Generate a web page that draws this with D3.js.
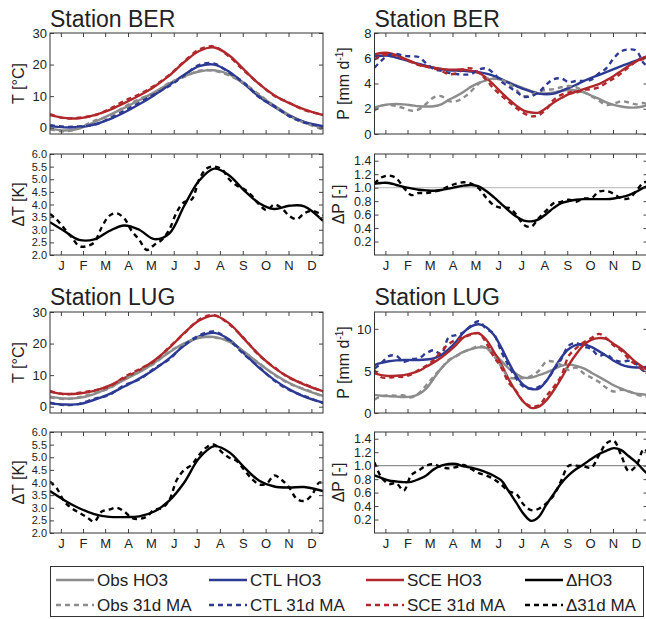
<!DOCTYPE html>
<html>
<head>
<meta charset="utf-8">
<script src="https://cdn.jsdelivr.net/npm/d3@7"></script>
<style>
body{margin:0;background:#fff;}
svg text{font-family:"Liberation Sans",Arial,Helvetica,sans-serif;fill:#222;}
</style>
</head>
<body>
<svg id="fig" width="646" height="619"></svg>
<script>
// x grids (day of year)
var dayH = [1,20,40,60,80,100,120,140,160,180,200,220,240,260,280,300,320,340,365];
var dayM = [1,10,20,30,40,50,60,70,80,90,100,110,120,130,140,150,160,170,180,190,200,210,220,230,240,250,260,270,280,290,300,310,320,330,340,350,360,365];
var monthDays = [15.5,45,74.5,105,135.5,166,196.5,227.5,258,288.5,319,349.5];
var monthNames = ["J","F","M","A","M","J","J","A","S","O","N","D"];

// tick values
var tTicks = [0,10,20,30];
var dtTicks = [2,2.5,3,3.5,4,4.5,5,5.5,6];
var pBerTicks = [0,2,4,6,8];
var pLugTicks = [0,5,10];
var dpTicks = [0.2,0.4,0.6,0.8,1.0,1.2,1.4];

// ---- Station BER ----
var berTObs   = [-0.2,-0.9,-0.3,1.8,4.0,6.3,8.7,11.2,14.0,16.3,17.8,18.2,16.9,13.8,10.2,7.0,4.0,1.8,-0.2];
var berTObsMA = [-0.5,-1.2,-0.1,2.2,3.7,6.6,9.1,11.0,14.2,16.1,18.1,18.0,16.5,14.0,10.5,6.8,3.7,1.6,-0.6];
var berTCtl   = [0.5,0.1,0.2,1.0,2.6,4.8,7.4,10.3,13.5,16.8,19.5,20.0,17.7,13.9,9.8,6.6,3.8,1.8,0.5];
var berTCtlMA = [0.8,0.3,0.4,0.9,2.9,5.4,7.9,10.6,13.2,16.6,19.9,20.3,17.4,14.2,9.6,6.9,3.6,1.6,0.4];
var berTSce   = [4.0,3.1,3.0,4.0,5.6,7.8,10.2,13.0,16.5,20.8,24.3,25.4,22.9,18.3,13.8,10.3,7.8,5.8,4.0];
var berTSceMA = [4.3,3.0,3.2,3.9,5.9,8.5,10.6,13.3,16.7,21.0,24.8,25.7,22.5,18.0,13.9,10.1,7.9,5.6,4.1];

var berDT   = [3.30,2.95,2.6,2.62,2.95,3.17,3.0,2.63,2.85,3.95,4.95,5.42,5.15,4.55,4.05,3.82,3.95,3.93,3.35];
var berDTMA = [3.63,3.4,3.05,2.7,2.35,2.35,2.5,3.1,3.55,3.65,3.45,2.95,2.6,2.2,2.4,2.6,3.0,3.7,4.1,4.2,5.0,5.43,5.5,5.4,5.0,4.75,4.6,4.35,4.0,3.77,4.0,3.85,3.55,3.42,3.65,3.75,3.65,3.57];

var berPObs   = [2.1,2.25,2.35,2.38,2.35,2.28,2.2,2.18,2.2,2.35,2.7,3.0,3.35,3.75,4.05,4.25,4.4,4.3,4.1,3.85,3.62,3.4,3.22,3.22,3.3,3.4,3.5,3.45,3.3,3.05,2.8,2.5,2.3,2.18,2.1,2.1,2.2,2.3];
var berPObsMA = [1.85,2.25,2.3,2.2,2.05,1.85,1.95,2.4,2.9,3.0,2.6,2.6,2.9,3.4,4.0,4.4,4.4,4.3,4.0,3.5,3.0,3.1,3.35,3.5,3.55,3.7,3.8,3.7,3.35,3.0,2.65,2.3,2.4,2.6,2.5,2.35,2.45,2.35];
var berPCtl   = [6.15,6.2,6.2,6.05,5.9,5.72,5.55,5.4,5.25,5.15,5.05,5.02,5.0,4.95,4.9,4.78,4.6,4.35,4.05,3.8,3.55,3.35,3.2,3.15,3.2,3.42,3.65,3.9,4.2,4.45,4.67,4.9,5.14,5.37,5.6,5.82,6.05,6.1];
var berPCtlMA = [5.25,5.8,6.25,6.35,6.2,6.15,6.1,5.6,5.15,5.0,4.85,4.75,4.7,4.75,5.1,5.2,4.8,4.15,3.75,3.35,2.95,3.0,3.3,3.9,4.35,4.4,4.1,4.2,4.2,4.3,4.8,5.2,6.0,6.55,6.7,6.6,5.6,5.4];
var berPSce   = [6.3,6.42,6.42,6.25,6.0,5.75,5.5,5.35,5.25,5.15,5.1,5.1,5.1,5.0,4.85,4.45,3.9,3.3,2.75,2.25,1.85,1.7,1.7,2.05,2.5,2.85,3.15,3.35,3.55,3.75,3.95,4.25,4.6,5.0,5.4,5.75,6.05,6.2];
var berPSceMA = [5.9,6.2,6.3,6.2,5.95,5.7,5.45,5.35,5.2,5.0,4.75,4.8,5.15,5.2,4.85,4.3,3.6,3.05,2.55,2.05,1.65,1.4,1.5,1.95,2.7,3.1,3.3,3.3,3.5,3.55,3.7,4.05,4.4,4.8,5.3,5.75,5.95,6.15];

var berDP   = [1.06,1.07,1.07,1.04,1.01,0.99,0.97,0.96,0.955,0.965,0.985,1.01,1.03,1.04,1.02,0.95,0.86,0.76,0.66,0.57,0.51,0.5,0.53,0.61,0.7,0.77,0.8,0.82,0.83,0.83,0.83,0.83,0.84,0.86,0.89,0.94,1.0,1.02];
var berDPMA = [1.06,1.15,1.18,1.14,1.0,0.89,0.92,0.92,0.94,0.97,1.02,1.06,1.08,1.06,0.99,0.85,0.74,0.7,0.7,0.6,0.45,0.42,0.55,0.66,0.77,0.79,0.82,0.79,0.84,0.84,0.94,0.95,0.91,0.84,0.84,0.95,1.08,1.08];

// ---- Station LUG ----
var lugTObs   = [3.2,2.6,2.8,4.0,6.0,8.5,10.9,13.9,17.2,20.1,21.8,22.1,20.6,17.4,13.6,10.3,7.5,5.4,3.4];
var lugTObsMA = [3.0,2.4,3.0,4.3,5.8,8.8,11.2,13.7,17.5,20.0,22.0,21.9,20.9,17.2,13.8,10.1,7.3,5.6,3.2];
var lugTCtl   = [1.05,0.7,0.8,2.2,4.0,6.4,8.9,11.8,15.3,19.4,22.3,23.4,21.3,16.8,12.3,8.5,5.5,3.2,1.3];
var lugTCtlMA = [1.3,0.5,0.9,2.5,3.7,6.8,8.6,12.1,15.0,19.6,22.6,23.8,21.0,16.5,12.5,8.3,5.3,3.4,1.1];
var lugTSce   = [4.7,4.05,4.2,5.0,6.65,9.05,11.55,14.65,18.6,23.4,27.3,28.85,26.4,21.4,16.4,12.3,9.3,7.0,4.9];
var lugTSceMA = [5.0,3.9,4.4,5.2,6.4,9.4,11.9,14.4,18.9,23.2,27.6,29.0,26.1,21.6,16.2,12.5,9.1,7.2,4.7];

var lugDT   = [3.66,3.3,2.98,2.75,2.64,2.63,2.66,2.85,3.28,4.0,4.97,5.44,5.2,4.6,4.07,3.84,3.8,3.82,3.66];
var lugDTMA = [4.03,3.77,3.25,2.98,2.8,2.63,2.45,2.85,2.93,3.0,2.85,2.6,2.56,2.65,2.92,2.98,3.3,4.1,4.5,4.7,5.1,5.4,5.5,5.2,4.98,4.85,4.5,4.15,3.92,3.96,4.28,4.1,3.8,3.35,3.27,3.5,4.0,3.96];

var lugPObs   = [2.15,2.05,2.0,1.95,1.9,1.95,2.25,2.9,4.1,5.3,6.2,6.8,7.3,7.6,7.8,7.75,7.1,6.2,5.3,4.65,4.2,4.2,4.5,4.8,5.2,5.6,5.75,5.6,5.3,4.8,4.3,3.8,3.3,2.9,2.55,2.3,2.2,2.15];
var lugPObsMA = [1.6,2.0,2.1,2.05,2.1,1.85,2.35,3.3,4.35,5.3,6.3,6.75,7.25,7.6,7.95,7.7,6.8,5.5,4.25,4.1,4.15,4.4,5.0,6.1,6.1,5.7,5.1,5.4,4.7,4.2,3.7,3.0,2.55,2.75,2.6,2.2,2.0,1.95];
var lugPCtl   = [5.7,5.95,6.15,6.25,6.3,6.3,6.3,6.35,6.5,6.9,7.6,8.5,9.6,10.3,10.55,10.2,9.3,7.8,6.0,4.4,3.3,2.85,2.9,3.8,5.2,6.6,7.6,8.1,8.15,7.85,7.35,6.8,6.2,5.75,5.5,5.4,5.45,5.5];
var lugPCtlMA = [5.3,5.9,6.75,6.8,6.1,6.4,6.5,7.1,7.45,7.0,9.0,9.25,9.6,10.4,10.9,10.0,9.4,7.3,5.6,4.1,3.1,2.9,3.1,3.8,5.1,6.4,8.0,8.3,7.9,7.6,6.8,7.0,6.3,6.1,6.2,5.8,5.0,4.9];
var lugPSce   = [4.7,4.5,4.4,4.42,4.5,4.7,5.0,5.5,6.0,6.6,7.3,8.1,9.0,9.4,9.45,8.7,7.3,5.8,4.0,2.5,1.3,0.6,0.75,1.5,2.7,4.1,5.7,7.0,8.1,8.7,8.9,8.8,8.2,7.6,6.8,6.0,5.4,5.1];
var lugPSceMA = [5.1,4.25,4.2,4.3,4.3,4.6,5.1,5.6,6.3,7.3,8.2,8.7,9.0,9.3,9.5,8.3,6.7,5.4,3.6,2.6,1.3,0.8,0.9,2.0,3.1,4.4,6.8,7.7,8.4,8.9,9.4,8.9,8.0,7.4,6.4,5.7,5.0,4.7];

var lugDP   = [0.855,0.82,0.78,0.765,0.755,0.76,0.8,0.855,0.945,1.0,1.025,1.025,0.99,0.97,0.94,0.9,0.85,0.78,0.62,0.45,0.28,0.18,0.24,0.42,0.58,0.74,0.86,0.95,1.02,1.1,1.17,1.22,1.26,1.23,1.14,1.05,0.93,0.88];
var lugDPMA = [1.05,0.83,0.73,0.74,0.63,0.86,0.93,1.0,1.02,0.98,0.96,0.98,1.01,0.95,0.89,0.855,0.8,0.72,0.62,0.58,0.42,0.34,0.36,0.44,0.56,0.78,1.0,1.0,0.99,0.97,1.15,1.33,1.37,1.15,0.92,1.0,1.25,1.2];

// legend
var legendTop = ["Obs HO3","CTL HO3","SCE HO3","\u0394HO3"];
var legendBot = ["Obs 31d MA","CTL 31d MA","SCE 31d MA","\u039431d MA"];

var col = {obs:"#8c8c8c", ctl:"#2d3a93", sce:"#b0282c", d:"#000"};
var LX = 50, RX = 374.5, W = 273, H = 101;
var svg = d3.select("#fig");
var clipN = 0;

function set(sol, ma, c, days) {
  return [{d:days, v:sol, c:c, dash:false}, {d:days, v:ma, c:c, dash:true}];
}

function panel(p) {
  var x = d3.scaleLinear().domain([1,365]).range([p.left, p.left + W]);
  var y = d3.scaleLinear().domain(p.dom).range([p.top + H, p.top]);
  var id = "clip" + (clipN++);
  svg.append("clipPath").attr("id", id).append("rect")
    .attr("x", p.left).attr("y", p.top).attr("width", W).attr("height", H);
  var g = svg.append("g");
  var pg = g.append("g").attr("clip-path", "url(#" + id + ")");

  if (p.ref != null) {
    pg.append("line").attr("x1", p.left).attr("x2", p.left + W)
      .attr("y1", y(p.ref)).attr("y2", y(p.ref))
      .attr("stroke", p.refColor).attr("stroke-width", 1.2);
  }
  var line = d3.line().curve(d3.curveCatmullRom.alpha(0.5));
  var solid = p.lines.filter(function(s){ return !s.dash; });
  var dashed = p.lines.filter(function(s){ return s.dash; });
  solid.concat(dashed).forEach(function(s) {
    var pts = s.d.map(function(d, i){ return [x(d), y(s.v[i])]; });
    pg.append("path").attr("d", line(pts)).attr("fill", "none")
      .attr("stroke", s.c).attr("stroke-width", 2.4)
      .attr("stroke-dasharray", s.dash ? "5,4" : null)
      .attr("stroke-linecap", "butt");
  });

  // axes with inward ticks
  var ax = [];
  ax.push(g.append("g").attr("transform", "translate(" + p.left + ",0)")
    .call(d3.axisLeft(y).tickValues(p.ticks).tickFormat(p.fmt).tickSize(-4).tickPadding(3)));
  ax.push(g.append("g").attr("transform", "translate(" + (p.left + W) + ",0)")
    .call(d3.axisRight(y).tickValues(p.ticks).tickFormat("").tickSize(-4)));
  ax.push(g.append("g").attr("transform", "translate(0," + p.top + ")")
    .call(d3.axisTop(x).tickValues(monthDays).tickFormat("").tickSize(-4)));
  ax.push(g.append("g").attr("transform", "translate(0," + (p.top + H) + ")")
    .call(d3.axisBottom(x).tickValues(monthDays)
      .tickFormat(p.months ? function(d, i){ return monthNames[i]; } : "")
      .tickSize(-4).tickPadding(6)));
  ax.forEach(function(a) {
    a.select(".domain").remove();
    a.selectAll(".tick line").attr("stroke", "#444");
    a.selectAll("text").attr("font-size", 13).attr("font-family", null).attr("fill", "#222");
  });
  if (p.tickFont) ax[0].selectAll("text").attr("font-size", p.tickFont);

  g.append("rect").attr("x", p.left).attr("y", p.top).attr("width", W).attr("height", H)
    .attr("fill", "none").attr("stroke", "#333").attr("stroke-width", 1);

  // y label
  var lx = p.labelX || (p.left === LX ? 18.5 : 343);
  var t = g.append("text").attr("transform", "translate(" + lx + "," + (p.top + H / 2) + ") rotate(-90)")
    .attr("text-anchor", "middle").attr("dy", "0.35em").attr("font-size", 16);
  if (p.label === "P") {
    t.append("tspan").text("P [mm d");
    t.append("tspan").attr("font-size", 10).attr("dy", -6).text("-1");
    t.append("tspan").attr("dy", 6).text("]");
  } else {
    t.text(p.label);
  }
}

var f0 = d3.format("d"), f1 = d3.format(".1f");

panel({left:LX, top:33, dom:[-2,30], ticks:tTicks, fmt:f0, label:"T [\u00B0C]",
  lines:[].concat(set(berTObs,berTObsMA,col.obs,dayH), set(berTCtl,berTCtlMA,col.ctl,dayH), set(berTSce,berTSceMA,col.sce,dayH))});
panel({left:RX, top:33, dom:[0,8], ticks:pBerTicks, fmt:f0, label:"P",
  lines:[].concat(set(berPObs,berPObsMA,col.obs,dayM), set(berPCtl,berPCtlMA,col.ctl,dayM), set(berPSce,berPSceMA,col.sce,dayM))});
panel({left:LX, top:154, dom:[2,6], ticks:dtTicks, fmt:f1, label:"\u0394T [K]", months:true, tickFont:11,
  lines:[{d:dayH, v:berDT, c:col.d}, {d:dayM, v:berDTMA, c:col.d, dash:true}]});
panel({left:RX, top:154, dom:[0,1.5], ticks:dpTicks, fmt:f1, label:"\u0394P [-]", months:true, ref:1, refColor:"#c4c4c4",
  tickFont:12.5, labelX:338.5,
  lines:[{d:dayM, v:berDP, c:col.d}, {d:dayM, v:berDPMA, c:col.d, dash:true}]});

panel({left:LX, top:312, dom:[-2,30], ticks:tTicks, fmt:f0, label:"T [\u00B0C]",
  lines:[].concat(set(lugTObs,lugTObsMA,col.obs,dayH), set(lugTCtl,lugTCtlMA,col.ctl,dayH), set(lugTSce,lugTSceMA,col.sce,dayH))});
panel({left:RX, top:312, dom:[0,12], ticks:pLugTicks, fmt:f0, label:"P",
  lines:[].concat(set(lugPObs,lugPObsMA,col.obs,dayM), set(lugPCtl,lugPCtlMA,col.ctl,dayM), set(lugPSce,lugPSceMA,col.sce,dayM))});
panel({left:LX, top:432, dom:[2,6], ticks:dtTicks, fmt:f1, label:"\u0394T [K]", months:true, tickFont:11,
  lines:[{d:dayH, v:lugDT, c:col.d}, {d:dayM, v:lugDTMA, c:col.d, dash:true}]});
panel({left:RX, top:432, dom:[0,1.5], ticks:dpTicks, fmt:f1, label:"\u0394P [-]", months:true, ref:1, refColor:"#8f8f8f",
  tickFont:12.5, labelX:338.5,
  lines:[{d:dayM, v:lugDP, c:col.d}, {d:dayM, v:lugDPMA, c:col.d, dash:true}]});

// titles
[[LX,27,"Station BER"],[RX,27,"Station BER"],[LX,305,"Station LUG"],[RX,305,"Station LUG"]].forEach(function(t){
  svg.append("text").attr("x", t[0]).attr("y", t[1]).attr("font-size", 23).text(t[2]);
});

// legend
var lg = svg.append("g");
lg.append("rect").attr("x", 50.5).attr("y", 566.5).attr("width", 593).attr("height", 50)
  .attr("fill", "#fff").attr("stroke", "#333").attr("stroke-width", 1);
var legX = [56, 209, 366, 525];
var legC = [col.obs, col.ctl, col.sce, col.d];
[580, 605].forEach(function(ry, r) {
  legX.forEach(function(lx, i) {
    lg.append("line").attr("x1", lx).attr("x2", lx + 38).attr("y1", ry).attr("y2", ry)
      .attr("stroke", legC[i]).attr("stroke-width", 2.4)
      .attr("stroke-dasharray", r ? "5,4" : null);
    lg.append("text").attr("x", lx + 41).attr("y", ry).attr("dy", "0.35em")
      .attr("font-size", 17).text(r ? legendBot[i] : legendTop[i]);
  });
});
</script>
</body>
</html>
